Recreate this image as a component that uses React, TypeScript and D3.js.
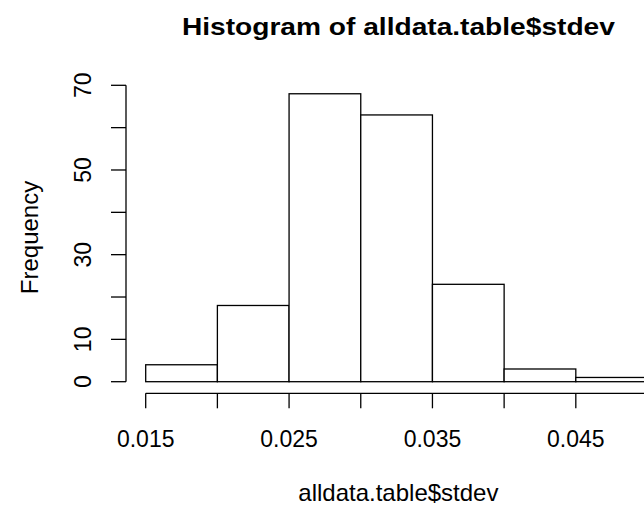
import React from "react";
import * as d3 from "d3";

const breaks = [0.015, 0.02, 0.025, 0.03, 0.035, 0.04, 0.045, 0.05];
const counts = [4, 18, 68, 63, 23, 3, 1];
const xTicks = [0.015, 0.02, 0.025, 0.03, 0.035, 0.04, 0.045, 0.05];
const xTickLabels = [0.015, 0.025, 0.035, 0.045];
const yTicks = [0, 10, 20, 30, 40, 50, 60, 70];
const yTickLabels = [0, 10, 30, 50, 70];
const title = "Histogram of alldata.table$stdev";
const xTitle = "alldata.table$stdev";
const yTitle = "Frequency";

export default function App() {
  const W = 644, H = 508;
  const x = d3.scaleLinear().domain([0.015, 0.05]).range([145.7, 647.5]);
  const y = d3.scaleLinear().domain([0, 70]).range([381.7, 85.3]);
  const font = "'Liberation Sans', Arial, Helvetica, sans-serif";
  const sw = 1.3;
  const axisY = 393.3;
  const axisX = 126;
  const bins = counts.map((c, i) => ({ x0: breaks[i], x1: breaks[i + 1], c }));
  return (
    <svg width={W} height={H} style={{ position: "absolute", left: 0, top: 0, background: "#fff" }} fontFamily={font}>
      <rect x={0} y={0} width={W} height={H} fill="#fff" />
      {bins.map((b, i) => (
        <rect key={i} x={x(b.x0)} y={y(b.c)} width={x(b.x1) - x(b.x0)} height={y(0) - y(b.c)}
          fill="#fff" stroke="#000" strokeWidth={sw} />
      ))}
      {/* x axis */}
      <line x1={x(xTicks[0])} x2={x(xTicks[xTicks.length - 1])} y1={axisY} y2={axisY} stroke="#000" strokeWidth={sw} />
      {xTicks.map((t, i) => (
        <line key={i} x1={x(t)} x2={x(t)} y1={axisY} y2={axisY + 15} stroke="#000" strokeWidth={sw} />
      ))}
      {xTickLabels.map((t, i) => (
        <text key={i} x={x(t)} y={447} textAnchor="middle" fontSize={23}>{d3.format(".3f")(t)}</text>
      ))}
      {/* y axis */}
      <line x1={axisX} x2={axisX} y1={y(0)} y2={y(70)} stroke="#000" strokeWidth={sw} />
      {yTicks.map((t, i) => (
        <line key={i} x1={axisX - 15} x2={axisX} y1={y(t)} y2={y(t)} stroke="#000" strokeWidth={sw} />
      ))}
      {yTickLabels.map((t, i) => (
        <text key={i} transform={`translate(91,${y(t)}) rotate(-90)`} textAnchor="middle" fontSize={23}>{t}</text>
      ))}
      <text x={398.4} y={35} textAnchor="middle" fontSize={24} fontWeight="bold" textLength={433} lengthAdjust="spacingAndGlyphs">{title}</text>
      <text x={398.4} y={501} textAnchor="middle" fontSize={24}>{xTitle}</text>
      <text transform={`translate(38,237.5) rotate(-90)`} textAnchor="middle" fontSize={24}>{yTitle}</text>
    </svg>
  );
}
